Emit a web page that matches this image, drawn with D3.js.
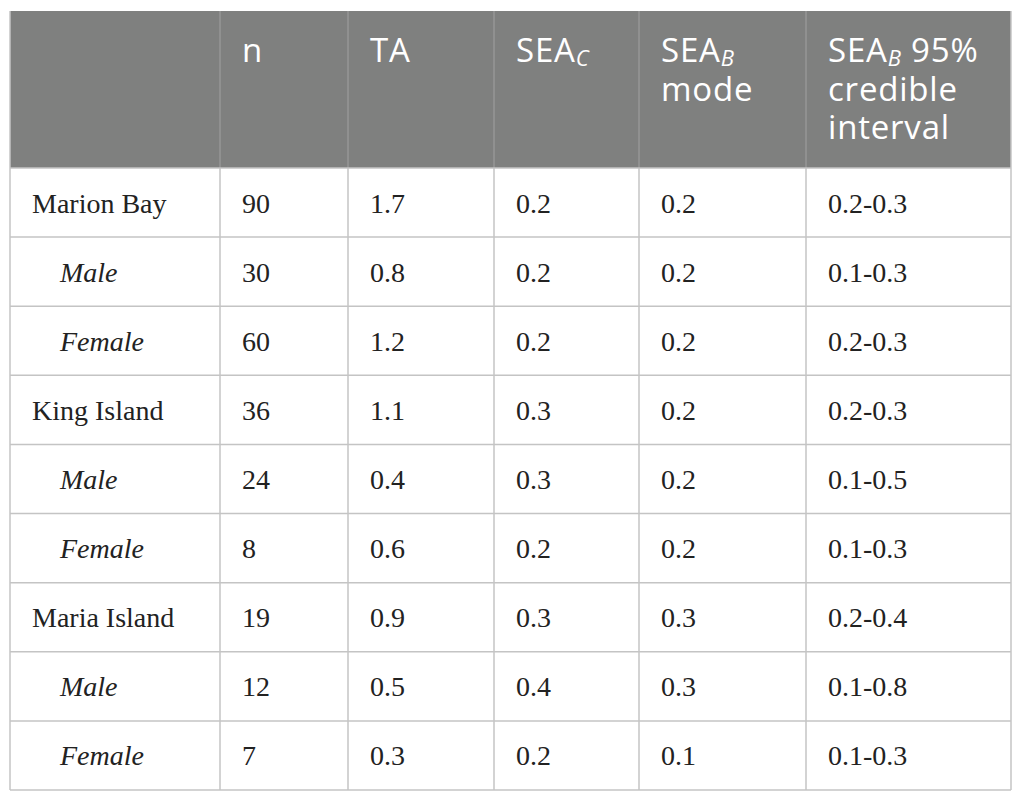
<!DOCTYPE html>
<html>
<head>
<meta charset="utf-8">
<script src="https://cdn.jsdelivr.net/npm/d3@7"></script>
<style>
  html, body { margin: 0; padding: 0; background: #fff; }
</style>
</head>
<body>
<script>
"use strict";

// TABLE DATA
const rowLabels = ["Marion Bay", "Male", "Female", "King Island", "Male", "Female", "Maria Island", "Male", "Female"];
const subRow = [false, true, true, false, true, true, false, true, true];
const nVals = [90, 30, 60, 36, 24, 8, 19, 12, 7];
const taVals = [1.7, 0.8, 1.2, 1.1, 0.4, 0.6, 0.9, 0.5, 0.3];
const seaCVals = [0.2, 0.2, 0.2, 0.3, 0.3, 0.2, 0.3, 0.4, 0.2];
const seaBModeVals = [0.2, 0.2, 0.2, 0.2, 0.2, 0.2, 0.3, 0.3, 0.1];
const seaBCI = ["0.2-0.3", "0.1-0.3", "0.2-0.3", "0.2-0.3", "0.1-0.5", "0.1-0.3", "0.2-0.4", "0.1-0.8", "0.1-0.3"];

// header lines, each line is a list of [text, isSubscript]
const headers = [
  [],
  [[["n", false]]],
  [[["TA", false]]],
  [[["SEA", false], ["C", true]]],
  [[["SEA", false], ["B", true]], [["mode", false]]],
  [[["SEA", false], ["B", true], [" 95%", false]], [["credible", false]], [["interval", false]]],
];

// LAYOUT
const width = 1025, height = 802;
const colEdges = [10, 220, 348, 494, 639, 806, 1011];
const topY = 11, headBottom = 168, bottomY = 790;
const pad = 22;

const fmt = d3.format(".1f");
const rows = rowLabels.map((label, i) => ({
  label,
  sub: subRow[i],
  cells: [label, String(nVals[i]), fmt(taVals[i]), fmt(seaCVals[i]), fmt(seaBModeVals[i]), seaBCI[i]],
}));

const y = d3.scaleBand()
  .domain(d3.range(rows.length))
  .range([headBottom, bottomY]);

const svg = d3.select("body").append("svg")
  .attr("width", width)
  .attr("height", height);

// header background
svg.append("rect")
  .attr("x", colEdges[0])
  .attr("y", topY)
  .attr("width", colEdges[6] - colEdges[0])
  .attr("height", headBottom - topY)
  .attr("fill", "#7f807f");

// header text
const headG = svg.append("g")
  .attr("font-family", "'Open Sans', 'Noto Sans', sans-serif")
  .attr("font-size", 33)
  .attr("letter-spacing", 0.8)
  .attr("fill", "#fff");

headers.forEach((lines, c) => {
  lines.forEach((parts, li) => {
    const t = headG.append("text")
      .attr("x", colEdges[c] + pad)
      .attr("y", 62 + li * 38.5);
    parts.forEach(([txt, isSub], k) => {
      const ts = t.append("tspan").text(txt);
      if (isSub) {
        ts.attr("font-size", 22)
          .attr("font-style", "italic")
          .attr("dy", 4);
      } else if (k > 0) {
        ts.attr("dy", -4);
      }
    });
  });
});

// header column separators
svg.append("g")
  .selectAll("line")
  .data(colEdges.slice(1, -1))
  .join("line")
  .attr("x1", (d) => d).attr("x2", (d) => d)
  .attr("y1", topY).attr("y2", headBottom)
  .attr("stroke", "#9c9c9c")
  .attr("stroke-width", 1.2);

// body grid
const grid = svg.append("g")
  .attr("stroke", "#c4c4c4")
  .attr("stroke-width", 1.5);

grid.selectAll("line.h")
  .data(d3.range(rows.length + 1))
  .join("line")
  .attr("class", "h")
  .attr("x1", colEdges[0]).attr("x2", colEdges[6])
  .attr("y1", (i) => (i < rows.length ? y(i) : bottomY))
  .attr("y2", (i) => (i < rows.length ? y(i) : bottomY));

grid.selectAll("line.v")
  .data(colEdges)
  .join("line")
  .attr("class", "v")
  .attr("x1", (d) => d).attr("x2", (d) => d)
  .attr("y1", (d, i) => (i === 0 || i === colEdges.length - 1 ? topY : headBottom))
  .attr("y2", bottomY);

// body text
const body = svg.append("g")
  .attr("font-family", "'Liberation Serif', 'DejaVu Serif', serif")
  .attr("font-size", 28)
  .attr("fill", "#222");

const rowG = body.selectAll("g")
  .data(rows)
  .join("g")
  .attr("transform", (d, i) => `translate(0, ${y(i) + y.bandwidth() / 2 + 10})`);

rowG.selectAll("text")
  .data((d) => d.cells.map((v, c) => ({ v, c, sub: d.sub })))
  .join("text")
  .attr("x", (d) => colEdges[d.c] + pad + (d.c === 0 && d.sub ? 28 : 0))
  .attr("font-style", (d) => (d.c === 0 && d.sub ? "italic" : "normal"))
  .text((d) => d.v);
</script>
</body>
</html>
